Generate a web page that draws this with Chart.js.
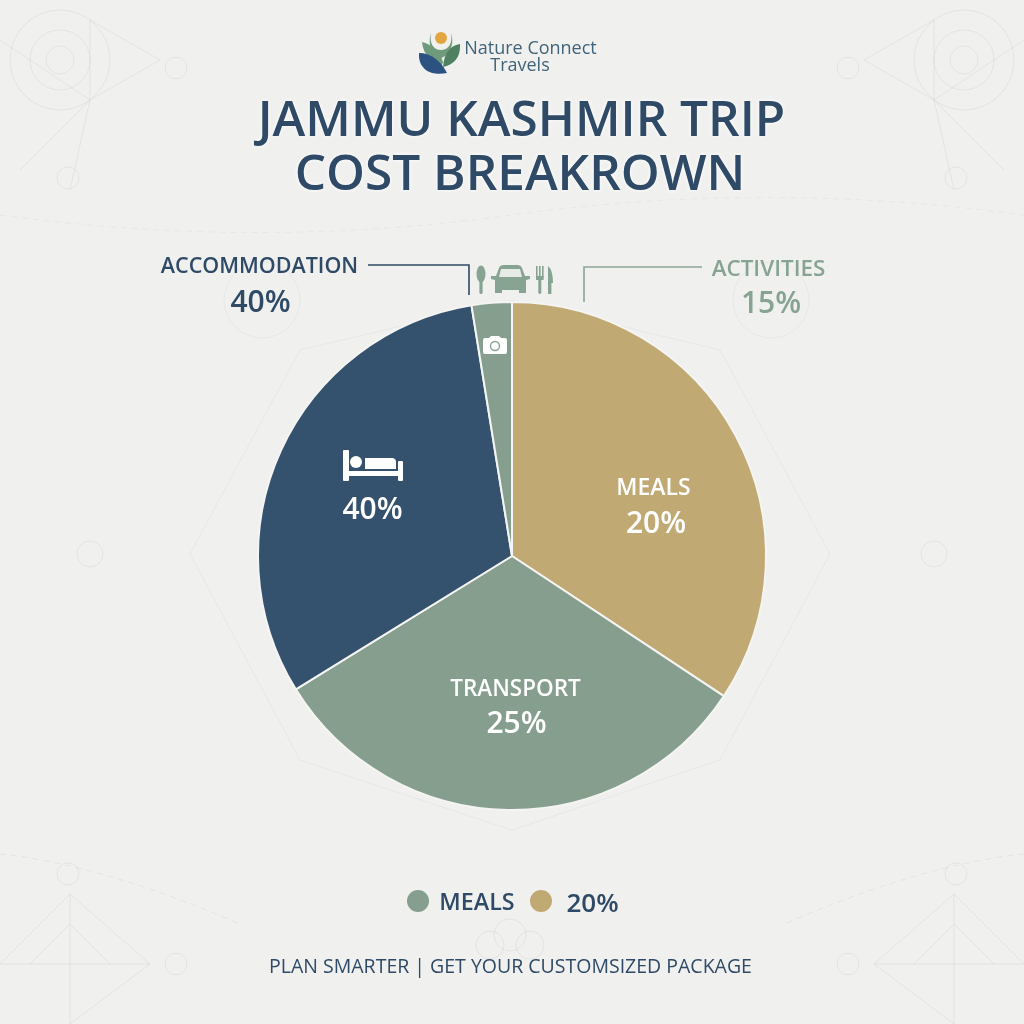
<!DOCTYPE html>
<html><head><meta charset="utf-8">
<style>
html,body{margin:0;padding:0;width:1024px;height:1024px;overflow:hidden;background:#f0f0ef;font-family:"Open Sans",sans-serif}
#decor,#icons{position:absolute;left:0;top:0}
#wrap{position:absolute;left:232px;top:276px;width:560px;height:560px}
.t{position:absolute;white-space:nowrap;transform:translate(-50%,-50%);line-height:1}
</style>
<script src="https://cdn.jsdelivr.net/npm/chart.js@4"></script>
</head><body>
<svg id="decor" width="1024" height="1024" fill="none" stroke="#c4c7c4" stroke-opacity=".3" stroke-width="1">
  <g>
    <circle cx="60" cy="60" r="50"/><circle cx="60" cy="60" r="30"/><circle cx="60" cy="60" r="14"/>
    <path d="M0 40 L90 100 L160 60 L90 20 M90 100 L70 190 M90 100 L20 170 M90 20 L90 100"/>
    <circle cx="176" cy="68" r="11"/><circle cx="68" cy="178" r="11"/>
  </g>
  <g transform="translate(1024,0) scale(-1,1)">
    <circle cx="60" cy="60" r="50"/><circle cx="60" cy="60" r="30"/><circle cx="60" cy="60" r="14"/>
    <path d="M0 40 L90 100 L160 60 L90 20 M90 100 L70 190 M90 100 L20 170 M90 20 L90 100"/>
    <circle cx="176" cy="68" r="11"/><circle cx="68" cy="178" r="11"/>
  </g>
  <g transform="translate(0,1024) scale(1,-1)">
    <path d="M0 60 L70 130 L150 60 L70 0 M70 130 L70 0 M0 60 L150 60 M30 60 L70 100 L110 60"/><circle cx="68" cy="150" r="11"/><circle cx="176" cy="60" r="11"/>
    <path d="M0 170 Q100 160 240 100" stroke-dasharray="6 5"/>
  </g>
  <g transform="translate(1024,1024) scale(-1,-1)">
    <path d="M0 60 L70 130 L150 60 L70 0 M70 130 L70 0 M0 60 L150 60 M30 60 L70 100 L110 60"/><circle cx="68" cy="150" r="11"/><circle cx="176" cy="60" r="11"/>
    <path d="M0 170 Q100 160 240 100" stroke-dasharray="6 5"/>
  </g>
  <path d="M512 300 L720 350 L830 554 L720 760 L512 830 L300 760 L190 554 L300 350Z" stroke-opacity=".2"/>
  <circle cx="90" cy="554" r="13"/><circle cx="934" cy="554" r="13"/>
  <path d="M0 215 Q260 250 512 215 T1024 215" stroke-dasharray="6 5" stroke-opacity=".2"/>
  <circle cx="262" cy="300" r="38" stroke-opacity=".2"/><circle cx="771" cy="300" r="38" stroke-opacity=".2"/>
  <circle cx="510" cy="935" r="16"/><circle cx="530" cy="945" r="14"/><circle cx="490" cy="945" r="14"/>
</svg>

<div id="wrap"><canvas id="pie" width="560" height="560"></canvas></div>

<svg id="icons" width="1024" height="1024">
  <path d="M368 265 H469 V295" fill="none" stroke="#2f4a66" stroke-width="1.6"/>
  <path d="M702 267 H584 V302" fill="none" stroke="#8aa695" stroke-width="1.6"/>
  <!-- logo -->
  <circle cx="441" cy="38" r="6" fill="#e3a63e"/>
  <path d="M431 33 C429 44 434 50 441 50 C448 50 453 44 451 33 C455 45 449 56 441 58 C433 56 427 45 431 33Z" fill="#6f9a7c"/>
  <path d="M422 42 C431 44 440 52 443 62 L441 68 C432 62 423 55 422 42Z" fill="#6f9a7c"/>
  <path d="M460 44 C449 46 444 54 443 67 C453 65 461 58 460 44Z" fill="#4f8160"/>
  <path d="M419 53 C431 53 441 61 447 73 C433 76 418 71 419 53Z" fill="#2c5282"/>
  <!-- spoon, car, fork and knife -->
  <g fill="#87a392">
    <ellipse cx="481" cy="274" rx="4.5" ry="8.5"/><rect x="479.4" y="278" width="3.2" height="16" rx="1.5"/>
    <path d="M491 276 H496 L499 268 Q500 265 504 265 H517 Q521 265 522 268 L525 276 H530 V279 L526 280 V293 H519 V290 H502 V293 H495 V280 L491 279Z"/>
    <rect x="536" y="266" width="1.6" height="12"/><rect x="539" y="266" width="1.6" height="12"/><rect x="542" y="266" width="1.6" height="12"/>
    <rect x="536" y="276" width="7.6" height="4"/><rect x="538.3" y="278" width="3" height="16" rx="1.4"/>
    <path d="M548 266 Q553 270 553 283 H551.4 V294 H548Z"/>
  </g>
  <path d="M501 269 H520 L522 277 H499Z" fill="#e6ebe6"/>
  <!-- camera -->
  <path d="M483 340 Q483 338 485 338 H489 L491 336 H499 L501 338 H505 Q507 338 507 340 V352 Q507 354 505 354 H485 Q483 354 483 352Z" fill="#fff"/>
  <circle cx="495" cy="346" r="4.5" fill="none" stroke="#87a392" stroke-width="1.4"/>
  <!-- bed -->
  <g fill="#fff">
    <rect x="343" y="450" width="6" height="31" rx="1"/><rect x="343" y="471" width="59" height="5"/>
    <rect x="398" y="461" width="5" height="20" rx="1"/><circle cx="356" cy="462" r="6"/>
    <path d="M365 458 H393 Q396 459 396 462 V469 H365Z"/>
  </g>
</svg>

<script>
const categories = ["Meals", "Transport", "Accommodation", "Activities"];
const sliceValues = [34.3, 31.9, 31.25, 2.55];
const sliceColors = ["#c1a973", "#859e8d", "#34516d", "#859e8d"];
const sliceLabels = ["MEALS", "TRANSPORT", "", ""];
const statedPercents = ["20%", "25%", "40%", "15%"];
const titleLines = ["JAMMU KASHMIR TRIP", "COST BREAKROWN"];

new Chart(document.getElementById("pie"), {
  type: "pie",
  data: { labels: categories, datasets: [{ data: sliceValues, backgroundColor: sliceColors, borderColor: "#f4f4f2", borderWidth: 2 }] },
  options: {
    responsive: false, animation: false, radius: 254,
    layout: { padding: 0 },
    plugins: { legend: { display: false }, tooltip: { enabled: false } }
  }
});

function text(str, x, y, size, weight, color, extra) {
  const d = document.createElement("div");
  d.className = "t";
  d.textContent = str;
  d.style.cssText = `left:${x}px;top:${y}px;font-size:${size}px;font-weight:${weight};color:${color};${extra||""}`;
  document.body.appendChild(d);
}
const navy = "#2f4a66", sage = "#87a392";
text("Nature Connect", 530.5, 47, 18, 500, "#3f6378");
text("Travels", 520, 64, 18, 500, "#3f6378");
text(titleLines[0], 521.5, 118, 49.5, 600, navy, "text-shadow:0 0 4px #fff");
text(titleLines[1], 520, 172, 49.5, 600, navy, "text-shadow:0 0 4px #fff");
text("ACCOMMODATION", 259.5, 265, 21.5, 600, navy);
text(statedPercents[2], 260.5, 301, 30, 600, navy);
text("ACTIVITIES", 768.5, 268, 22.4, 600, sage);
text(statedPercents[3], 771, 302, 30, 600, sage);
text(sliceLabels[0], 653.5, 486, 23, 600, "#fff");
text(statedPercents[0], 656, 522, 30, 600, "#fff");
text(sliceLabels[1], 515.5, 688, 22.5, 600, "#fff");
text(statedPercents[1], 516.5, 722, 30, 600, "#fff");
text(statedPercents[2], 372.5, 508, 30, 600, "#fff");
text("MEALS", 477, 902, 23.3, 600, navy);
text(statedPercents[0], 592.5, 902, 26, 600, navy);
text("PLAN SMARTER | GET YOUR CUSTOMSIZED PACKAGE", 510.5, 966, 19.5, 400, navy);
for (const [x, c] of [[418, "#859e8d"], [541, "#c1a973"]]) {
  const d = document.createElement("div");
  d.style.cssText = `position:absolute;left:${x-11}px;top:${901-11}px;width:22px;height:22px;border-radius:50%;background:${c}`;
  document.body.appendChild(d);
}
</script>
</body></html>
